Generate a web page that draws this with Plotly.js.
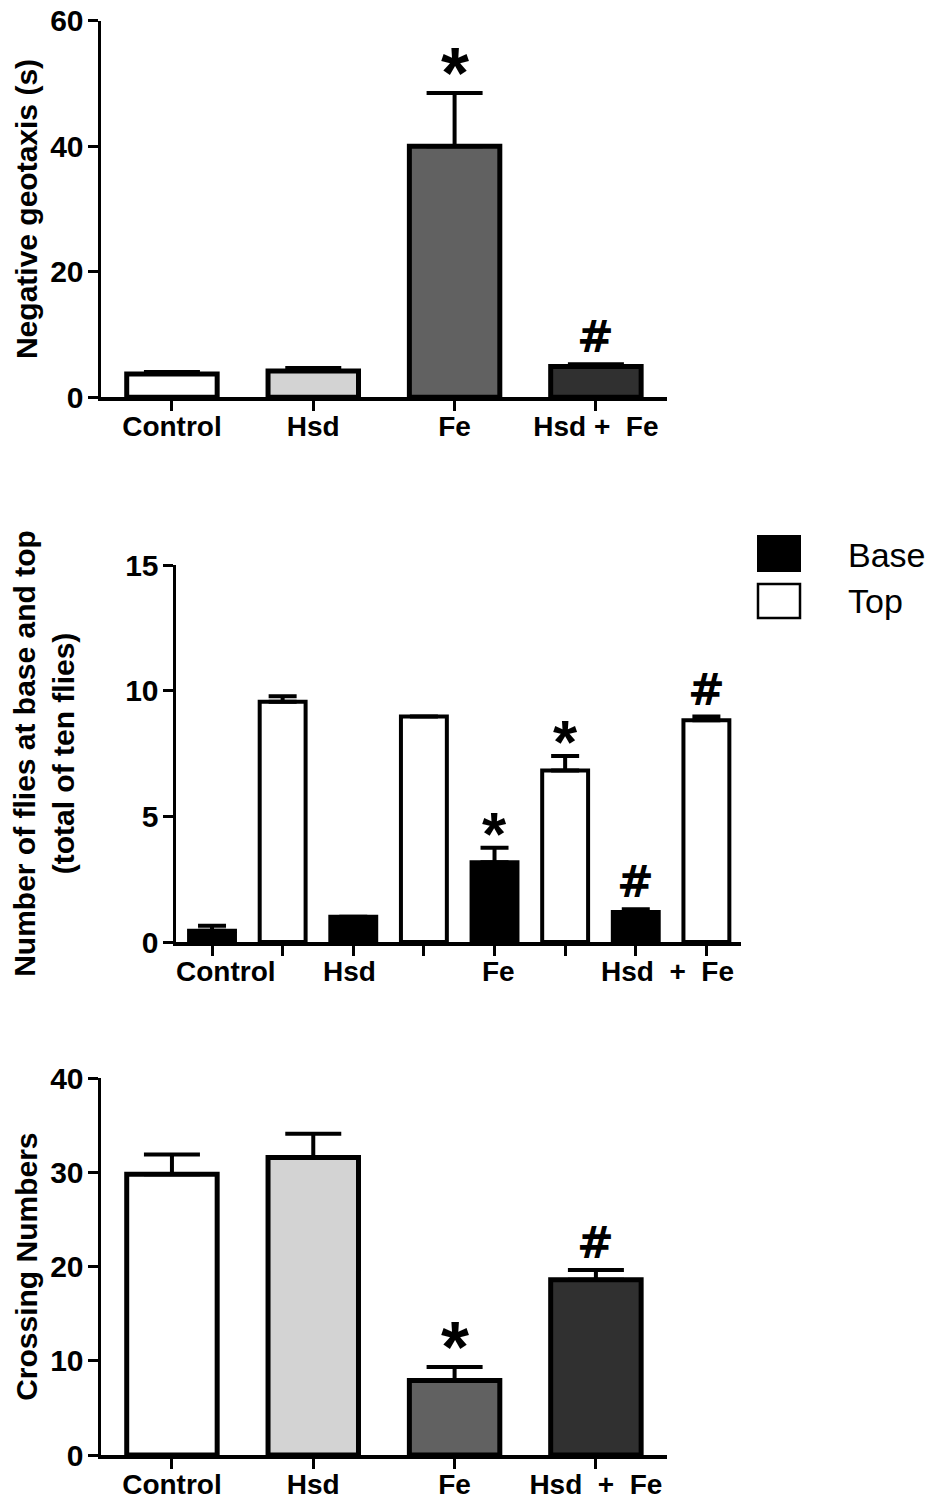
<!DOCTYPE html>
<html>
<head>
<meta charset="utf-8">
<script src="https://cdn.plot.ly/plotly-3.0.1.min.js"></script>
<style>html,body{margin:0;padding:0;background:#fff;}#chart{width:932px;height:1499px;}</style>
</head>
<body>
<div id="chart"></div>
<script>
// ---------- data ----------
const groups = ['Control', 'Hsd', 'Fe', 'Hsd + Fe'];
const groupColors = ['#ffffff', '#d3d3d3', '#616161', '#303030'];

// Panel A: negative geotaxis (s)
const geotaxisTicks = ['Control', 'Hsd', 'Fe', 'Hsd +  Fe'];
const geotaxisMean = [3.7, 4.2, 40.0, 4.9];
const geotaxisSem = [0.35, 0.45, 8.5, 0.35];
const geotaxisSig = ['', '', '*', '#'];

// Panel B: flies at base and top (total of ten flies)
const climbLabels = ['Control', 'Hsd', 'Fe', 'Hsd  +  Fe'];
const baseMean = [0.45, 1.0, 3.17, 1.19];
const baseSem = [0.2, 0, 0.58, 0.11];
const topMean = [9.56, 8.97, 6.82, 8.82];
const topSem = [0.22, 0, 0.58, 0.15];
const baseSig = ['', '', '*', '#'];
const topSig = ['', '', '*', '#'];
const seriesNames = ['Base', 'Top'];

// Panel C: crossing numbers
const crossingTicks = ['Control', 'Hsd', 'Fe', 'Hsd  +  Fe'];
const crossingMean = [29.8, 31.6, 7.9, 18.6];
const crossingSem = [2.1, 2.5, 1.45, 1.05];
const crossingSig = ['', '', '*', '#'];

// ---------- helpers ----------
const nb = s => s.replace(/ /g, '\u00a0');
const FONT = '"Liberation Sans", Arial, Helvetica, sans-serif';
const HASHFONT = '"DejaVu Sans", "Liberation Sans", sans-serif';
const axisBase = {
  showline: true, linecolor: '#000', linewidth: 3.5, mirror: false,
  ticks: 'outside', ticklen: 10, tickwidth: 3, tickcolor: '#000',
  showgrid: false, zeroline: false, fixedrange: true,
  tickfont: {family: FONT, size: 28, weight: 700, color: '#000'}
};
const xTick = {tickfont: {family: FONT, size: 28, weight: 700, color: '#000'}, ticklabelstandoff: -8};
const yTick = {tickfont: {family: FONT, size: 30, weight: 700, color: '#000'}, ticklabelstandoff: -2};
const titleFont = {family: FONT, size: 30, weight: 700, color: '#000'};

const traces = [];

// Panel A
traces.push({
  type: 'bar', x: geotaxisTicks.map(nb), y: geotaxisMean, width: 0.64,
  xaxis: 'x', yaxis: 'y', name: 'Negative geotaxis',
  marker: {color: groupColors, line: {color: '#000', width: 5}},
  error_y: {type: 'data', symmetric: false, array: geotaxisSem, arrayminus: geotaxisSem.map(() => 0),
            color: '#000', thickness: 4, width: 28}
});

// Panel B
const baseX = baseMean.map((_, i) => 2 * i);
const topX = topMean.map((_, i) => 2 * i + 1);
traces.push({
  type: 'bar', x: baseX, y: baseMean, width: 0.65, xaxis: 'x2', yaxis: 'y2', name: seriesNames[0],
  marker: {color: '#000', line: {color: '#000', width: 4}},
  error_y: {type: 'data', symmetric: false, array: baseSem, arrayminus: baseSem.map(() => 0),
            color: '#000', thickness: 4, width: 14}
});
traces.push({
  type: 'bar', x: topX, y: topMean, width: 0.65, xaxis: 'x2', yaxis: 'y2', name: seriesNames[1],
  marker: {color: '#fff', line: {color: '#000', width: 4}},
  error_y: {type: 'data', symmetric: false, array: topSem, arrayminus: topSem.map(() => 0),
            color: '#000', thickness: 4, width: 14}
});

// Panel C
traces.push({
  type: 'bar', x: crossingTicks.map(nb), y: crossingMean, width: 0.64,
  xaxis: 'x3', yaxis: 'y3', name: 'Crossing numbers',
  marker: {color: groupColors, line: {color: '#000', width: 5}},
  error_y: {type: 'data', symmetric: false, array: crossingSem, arrayminus: crossingSem.map(() => 0),
            color: '#000', thickness: 4, width: 28}
});

// ---------- annotations ----------
const annotations = [];
function sigMark(txt, xref, yref, x, y, starSize, hashSize) {
  if (!txt) return;
  const isStar = txt === '*';
  annotations.push({
    xref: xref, yref: yref, x: x, y: y, text: '<b>' + txt + '</b>', showarrow: false,
    xanchor: 'center', yanchor: 'bottom', yshift: isStar ? -22 : 0,
    font: {family: isStar ? FONT : HASHFONT, size: isStar ? starSize : hashSize, weight: 700, color: '#000'}
  });
}
geotaxisSig.forEach((s, i) => sigMark(s, 'x', 'y', i, geotaxisMean[i] + geotaxisSem[i], 72, 44));
baseSig.forEach((s, i) => sigMark(s, 'x2', 'y2', baseX[i], baseMean[i] + baseSem[i], 62, 44));
topSig.forEach((s, i) => sigMark(s, 'x2', 'y2', topX[i], topMean[i] + topSem[i], 62, 44));
crossingSig.forEach((s, i) => sigMark(s, 'x3', 'y3', i, crossingMean[i] + crossingSem[i], 72, 44));

// Panel B group labels (placed between the bar pairs, as in the original)
const climbLabelPos = [0.2, 1.95, 4.06, 6.45];
climbLabels.forEach((t, i) => annotations.push({
  xref: 'x2', yref: 'paper', x: climbLabelPos[i], y: 1 - 971 / 1499, text: nb(t), showarrow: false,
  xanchor: 'center', yanchor: 'middle',
  font: {family: FONT, size: 28, weight: 700, color: '#000'}
}));

// Panel B legend text
annotations.push({xref: 'paper', yref: 'paper', x: 846 / 932, y: 1 - 555 / 1499, text: seriesNames[0],
  showarrow: false, xanchor: 'left', yanchor: 'middle', font: {family: FONT, size: 34, color: '#000'}});
annotations.push({xref: 'paper', yref: 'paper', x: 846 / 932, y: 1 - 601 / 1499, text: seriesNames[1],
  showarrow: false, xanchor: 'left', yanchor: 'middle', font: {family: FONT, size: 34, color: '#000'}});

const shapes = [
  {type: 'rect', xref: 'paper', yref: 'paper', x0: 758 / 932, x1: 800 / 932, y0: 1 - 571 / 1499, y1: 1 - 536 / 1499,
   fillcolor: '#000', line: {color: '#000', width: 2}},
  {type: 'rect', xref: 'paper', yref: 'paper', x0: 758 / 932, x1: 800 / 932, y0: 1 - 618 / 1499, y1: 1 - 584 / 1499,
   fillcolor: '#fff', line: {color: '#000', width: 2.5}}
];

const layout = {
  width: 932, height: 1499, margin: {l: 0, r: 0, t: 0, b: 0},
  paper_bgcolor: '#fff', plot_bgcolor: '#fff', showlegend: false,
  font: {family: FONT, color: '#000'},
  xaxis: Object.assign({}, axisBase, xTick, {domain: [101 / 932, 667 / 932], anchor: 'y', type: 'category',
    range: [-0.502, 3.503]}),
  yaxis: Object.assign({}, axisBase, yTick, {domain: [1 - 397.3 / 1499, 1 - 20.7 / 1499], anchor: 'x',
    range: [0, 60], tickvals: [0, 20, 40, 60],
    title: {text: 'Negative geotaxis (s)', font: titleFont, standoff: 4}}),
  xaxis2: Object.assign({}, axisBase, xTick, {domain: [176 / 932, 741 / 932], anchor: 'y2',
    range: [-0.51, 7.49], tickvals: [0, 1, 2, 3, 4, 5, 6, 7], showticklabels: false}),
  yaxis2: Object.assign({}, axisBase, yTick, {domain: [1 - 942 / 1499, 1 - 565 / 1499], anchor: 'x2',
    range: [0, 15], tickvals: [0, 5, 10, 15],
    title: {text: 'Number of flies at base and top<br>(total of ten flies)', font: titleFont, standoff: 42}}),
  xaxis3: Object.assign({}, axisBase, xTick, {domain: [101 / 932, 667 / 932], anchor: 'y3', type: 'category',
    range: [-0.502, 3.503]}),
  yaxis3: Object.assign({}, axisBase, yTick, {domain: [1 - 1455 / 1499, 1 - 1078.3 / 1499], anchor: 'x3',
    range: [0, 40], tickvals: [0, 10, 20, 30, 40],
    title: {text: 'Crossing Numbers', font: titleFont, standoff: 4}}),
  annotations: annotations,
  shapes: shapes,
  bargap: 0
};

Plotly.newPlot('chart', traces, layout, {staticPlot: true, displayModeBar: false});
</script>
</body>
</html>
